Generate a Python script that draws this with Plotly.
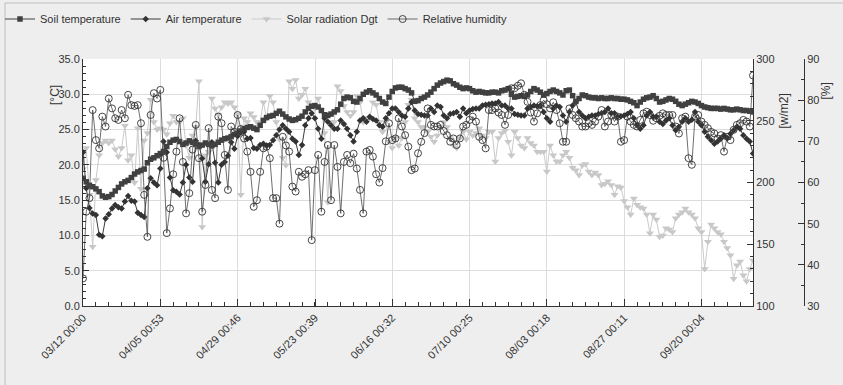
import pandas as pd
import plotly.graph_objects as go

# ---------------- data (daily samples starting 03/12) ----------------
start_date = "2013-03-12"

tick_labels = ["03/12 00:00", "04/05 00:53", "04/29 00:46", "05/23 00:39", "06/16 00:32",
               "07/10 00:25", "08/03 00:18", "08/27 00:11", "09/20 00:04"]

soil_temp = [
    18.1, 17.6, 17.1, 16.9, 16.6, 16.2, 15.6, 15.4, 15.5, 15.8, 16.3, 16.8, 17.3, 17.6, 17.8, 18.2, 18.7, 19.0, 19.2, 19.4, 20.3, 20.8, 21.0, 21.3, 21.6, 21.9, 22.6, 23.2, 23.5, 23.6,
    23.3, 22.9, 23.1, 23.4, 23.2, 23.0, 22.6, 22.8, 23.1, 22.9, 22.7, 22.9, 23.2, 23.5, 23.7, 23.8, 24.0, 24.3, 24.5, 24.8, 25.1, 25.3, 25.4, 25.2, 25.0, 25.6, 26.3, 26.7, 26.9, 27.0,
    27.3, 27.6, 27.2, 26.8, 26.5, 26.3, 26.4, 26.6, 26.9, 27.5, 28.0, 28.3, 28.4, 28.2, 27.7, 27.1, 27.0, 27.2, 27.5, 27.8, 28.6, 29.4, 29.6, 29.5, 29.0, 28.9, 29.4, 30.0, 30.3, 30.5,
    30.2, 29.9, 29.4, 28.9, 28.7, 29.6, 30.4, 30.9, 31.0, 31.0, 30.8, 30.6, 30.2, 29.0, 29.1, 29.4, 29.6, 29.9, 30.3, 30.8, 31.3, 31.6, 31.8, 32.0, 31.9, 31.5, 31.3, 31.0, 30.8, 30.9,
    30.8, 30.5, 30.3, 30.4, 30.3, 30.2, 30.2, 30.3, 30.3, 30.2, 30.5, 30.6, 30.8, 30.0, 29.6, 29.7, 29.8, 29.7, 29.9, 30.4, 30.8, 30.6, 30.3, 29.9, 30.1, 30.4, 30.6, 30.4, 30.2, 29.9,
    30.5, 30.6, 29.8, 29.0, 29.4, 29.9, 29.8, 29.6, 29.5, 29.5, 29.4, 29.5, 29.4, 29.4, 29.5, 29.4, 29.4, 29.3, 29.3, 29.2, 29.0, 28.8, 28.4, 28.9, 29.3, 29.5, 29.6, 29.8, 29.4, 28.9,
    29.0, 29.2, 29.4, 29.3, 29.0, 28.6, 28.4, 28.6, 28.8, 29.0, 28.9, 28.7, 28.4, 28.2, 28.1, 28.0, 28.0, 28.0, 27.9, 28.0, 27.9, 27.8, 27.8, 27.9, 27.8, 27.7, 27.7, 27.6, 27.5,
]

air_temp = [
    21.8, 16.7, 13.9, 13.1, 12.9, 10.1, 9.9, 12.4, 13.0, 13.8, 14.3, 14.0, 13.8, 14.8, 15.6, 14.9, 14.8, 13.2, 12.9, 12.6, 16.7, 18.1, 17.5, 17.1, 19.5, 23.3, 21.8, 18.2, 16.4, 16.2,
    15.8, 17.5, 20.0, 18.2, 17.6, 23.4, 22.8, 20.9, 17.6, 20.1, 23.2, 20.3, 17.5, 20.0, 20.4, 21.3, 23.2, 22.3, 24.1, 24.6, 24.7, 23.7, 23.8, 22.4, 22.3, 22.8, 23.0, 22.7, 22.8, 23.5,
    24.2, 25.0, 25.6, 25.1, 24.7, 23.7, 23.3, 21.4, 22.8, 25.6, 26.6, 27.3, 26.6, 25.1, 23.7, 26.6, 26.1, 25.6, 25.1, 25.1, 26.3, 25.8, 25.1, 24.2, 23.3, 24.7, 26.3, 26.6, 26.1, 26.8,
    26.5, 26.3, 25.6, 25.4, 26.6, 27.3, 28.0, 28.0, 27.5, 27.0, 26.8, 28.0, 28.9, 27.7, 27.2, 27.1, 27.0, 27.0, 28.0, 27.5, 28.4, 28.2, 27.0, 26.6, 27.2, 27.3, 27.5, 26.8, 28.0, 27.3,
    27.7, 27.9, 28.0, 28.0, 28.4, 28.5, 28.6, 28.7, 28.7, 28.9, 28.4, 28.4, 28.0, 28.0, 27.2, 27.1, 27.0, 27.0, 28.0, 28.2, 28.4, 28.3, 28.4, 27.5, 26.6, 26.1, 28.0, 28.4, 28.2, 27.0,
    26.1, 27.5, 28.4, 28.9, 27.5, 27.0, 26.6, 26.8, 27.0, 27.0, 27.2, 27.3, 27.5, 28.0, 27.3, 27.3, 26.8, 26.9, 27.0, 27.2, 27.5, 26.6, 25.6, 25.1, 25.6, 27.0, 27.5, 26.8, 26.8, 26.1,
    25.8, 26.3, 26.6, 25.6, 24.9, 25.4, 26.1, 26.6, 26.1, 26.4, 27.5, 26.1, 25.6, 24.7, 24.0, 23.5, 23.0, 23.3, 23.7, 24.2, 23.8, 24.4, 24.9, 25.4, 25.1, 24.2, 23.7, 23.3, 21.6,
]

solar_radiation = [
    211, 228, 190, 148, 202, 222, 232, 234, 232, 234, 227, 221, 228, 246, 218, 222, 200, 244, 195, 234, 240, 267, 249, 243, 244, 243, 239, 248, 254, 249,
    249, 252, 230, 220, 238, 245, 282, 164, 222, 225, 268, 260, 255, 261, 265, 264, 265, 261, 255, 190, 252, 249, 256, 253, 249, 249, 265, 252, 270, 265,
    249, 235, 220, 214, 282, 276, 283, 268, 271, 276, 265, 263, 260, 268, 259, 240, 184, 249, 249, 278, 274, 262, 257, 254, 257, 270, 265, 249, 252, 252,
    265, 263, 249, 241, 249, 233, 228, 236, 230, 236, 249, 263, 267, 252, 249, 245, 245, 241, 237, 233, 238, 245, 249, 245, 236, 230, 228, 236, 241, 235,
    241, 238, 240, 244, 238, 236, 241, 241, 217, 236, 240, 242, 233, 222, 241, 236, 230, 228, 236, 232, 230, 225, 225, 225, 209, 230, 222, 217, 217, 222,
    225, 220, 212, 210, 206, 214, 215, 209, 206, 208, 206, 198, 199, 201, 198, 190, 197, 196, 185, 180, 174, 187, 182, 180, 179, 174, 159, 174, 170, 156,
    157, 163, 162, 160, 171, 174, 176, 179, 176, 174, 171, 163, 160, 130, 152, 166, 163, 160, 158, 152, 147, 141, 122, 133, 136, 125, 120, 130, 137,
]

relative_humidity = [
    36.7, 52.9, 56.2, 77.6, 70.3, 68.3, 76.0, 73.6, 80.4, 78.0, 75.6, 75.2, 77.6, 75.6, 81.3, 78.8, 78.6, 78.8, 74.4, 57.0, 46.8, 76.4, 81.7, 80.4, 82.5, 66.0, 47.7, 53.7, 62.0, 67.5,
    75.6, 65.0, 52.5, 57.4, 68.0, 74.0, 65.9, 52.9, 59.4, 73.2, 58.2, 56.2, 76.0, 74.4, 66.7, 58.2, 73.6, 72.3, 76.4, 73.0, 70.7, 67.5, 62.6, 54.1, 55.7, 62.6, 68.3, 68.7, 65.9, 56.2,
    56.2, 50.0, 71.1, 69.0, 67.5, 59.0, 57.8, 62.6, 61.4, 62.0, 63.0, 46.0, 63.0, 66.7, 52.9, 65.0, 69.1, 55.7, 69.1, 63.8, 52.5, 65.0, 66.7, 64.7, 67.0, 63.4, 58.2, 52.5, 67.5, 67.9,
    66.3, 62.0, 60.0, 63.5, 70.0, 74.4, 70.3, 70.7, 75.6, 73.6, 71.5, 68.7, 63.0, 63.4, 67.1, 69.9, 72.0, 78.0, 74.0, 73.6, 73.6, 74.0, 72.5, 71.5, 69.9, 70.7, 69.1, 70.7, 73.6, 74.0,
    75.2, 76.0, 74.8, 71.1, 70.3, 68.3, 77.6, 77.6, 78.0, 77.0, 76.4, 74.0, 76.4, 82.9, 82.9, 83.5, 84.1, 81.3, 79.6, 77.0, 74.8, 76.8, 78.8, 80.0, 79.0, 78.0, 79.5, 77.6, 74.4, 69.9,
    69.9, 78.0, 76.4, 75.6, 74.8, 73.6, 73.6, 74.4, 74.0, 74.8, 76.0, 77.6, 73.6, 74.8, 76.4, 74.8, 76.0, 69.9, 70.3, 76.0, 74.8, 74.0, 73.6, 75.2, 76.8, 77.2, 76.4, 75.0, 75.6, 76.2,
    76.8, 76.4, 76.4, 76.4, 73.6, 71.9, 75.6, 76.0, 65.9, 64.3, 76.0, 76.4, 74.8, 74.0, 73.2, 72.3, 71.9, 70.7, 71.5, 67.5, 71.1, 70.3, 72.8, 74.0, 74.4, 75.2, 74.8, 73.6, 86.0,
]

n = len(soil_temp)
assert len(air_temp) == n and len(solar_radiation) == n and len(relative_humidity) == n, \
    (len(soil_temp), len(air_temp), len(solar_radiation), len(relative_humidity))

dates = pd.date_range(start_date, periods=n, freq="D")
tick_vals = [pd.to_datetime("2013/" + t, format="%Y/%m/%d %H:%M") for t in tick_labels]

# ---------------- figure ----------------
FONT = "Liberation Sans, Arial, sans-serif"
W, H = 843, 385
ML, MR, MT, MB = 83, 25, 59, 79
PW = W - ML - MR
PH = H - MT - MB


def px_x(px):
    return (px - ML) / PW


def px_y(py):
    return (H - MB - py) / PH


fig = go.Figure()

fig.add_trace(go.Scatter(
    x=dates, y=solar_radiation, name="Solar radiation Dgt", yaxis="y",
    mode="lines+markers", legendrank=3,
    line=dict(color="#cacaca", width=1),
    marker=dict(symbol="triangle-down", size=7, color="#c8c8c8"),
))
fig.add_trace(go.Scatter(
    x=dates, y=air_temp, name="Air temperature", yaxis="y2",
    mode="lines+markers", legendrank=2,
    line=dict(color="#3a3a3a", width=1),
    marker=dict(symbol="diamond", size=5, color="#333333"),
))
fig.add_trace(go.Scatter(
    x=dates, y=soil_temp, name="Soil temperature", yaxis="y2",
    mode="lines+markers", legendrank=1,
    line=dict(color="#404040", width=1),
    marker=dict(symbol="square", size=5.5, color="#404040"),
))
fig.add_trace(go.Scatter(
    x=dates, y=relative_humidity, name="Relative humidity", yaxis="y3",
    mode="lines+markers", legendrank=4,
    line=dict(color="#4a4a4a", width=0.8),
    marker=dict(symbol="circle-open", size=7, color="#333333", line=dict(width=0.9)),
))

tickfont = dict(family=FONT, size=11, color="#333333")
x_end = px_x(753)

fig.update_layout(
    width=W, height=H,
    margin=dict(l=ML, r=MR, t=MT, b=MB, autoexpand=False),
    paper_bgcolor="#eeeeee",
    plot_bgcolor="#ffffff",
    font=dict(family=FONT, size=11, color="#333333"),
    showlegend=True,
    legend=dict(
        orientation="h", xref="container", yref="container",
        x=-1 / W, xanchor="left", y=1 - 19 / H, yanchor="middle",
        font=dict(family=FONT, size=11, color="#333333"),
        bgcolor="rgba(0,0,0,0)", itemwidth=30, traceorder="normal",
    ),
    xaxis=dict(
        domain=[0, x_end], type="date",
        range=[dates[0], dates[-1]],
        tickvals=tick_vals, ticktext=tick_labels, tickangle=-45,
        tickfont=dict(family=FONT, size=11, color="#333333"),
        showgrid=True, gridcolor="#dcdcdc", gridwidth=1,
        ticks="inside", ticklen=7, tickcolor="#333333",
        minor=dict(ticks="inside", ticklen=4, tickcolor="#333333",
                   dtick=4 * 86400000, tick0=dates[0], showgrid=False),
        showline=True, linecolor="#333333", linewidth=1,
        zeroline=False,
    ),
    yaxis=dict(
        range=[100, 300], side="right", anchor="x",
        tickvals=[100, 150, 200, 250, 300], tickfont=tickfont,
        ticks="inside", ticklen=6, tickcolor="#333333",
        minor=dict(ticks="inside", ticklen=3, tickcolor="#333333", dtick=10, showgrid=False),
        showgrid=False, zeroline=False,
        showline=True, linecolor="#333333", linewidth=1,
    ),
    yaxis2=dict(
        range=[0, 35], side="left", anchor="x", overlaying="y",
        dtick=5, tick0=0, tickformat=".1f", tickfont=tickfont,
        ticks="inside", ticklen=6, tickcolor="#333333",
        minor=dict(ticks="inside", ticklen=3, tickcolor="#333333", dtick=1, showgrid=False),
        showgrid=True, gridcolor="#dcdcdc", gridwidth=1,
        zeroline=False, showline=True, linecolor="#333333", linewidth=1,
    ),
    yaxis3=dict(
        range=[30, 90], side="right", anchor="free", overlaying="y",
        position=px_x(804),
        dtick=10, tick0=30, tickfont=tickfont,
        ticks="inside", ticklen=6, tickcolor="#333333",
        minor=dict(ticks="inside", ticklen=3, tickcolor="#333333", dtick=5, showgrid=False),
        showgrid=False, zeroline=False,
        showline=True, linecolor="#333333", linewidth=1,
    ),
    annotations=[
        dict(text="[°C]", x=px_x(46), y=px_y(83), xref="paper", yref="paper",
             showarrow=False, textangle=-90, font=dict(family=FONT, size=12, color="#333333")),
        dict(text="[w/m2]", x=px_x(792), y=px_y(92), xref="paper", yref="paper",
             showarrow=False, textangle=-90, font=dict(family=FONT, size=12, color="#333333")),
        dict(text="[%]", x=px_x(834), y=px_y(80), xref="paper", yref="paper",
             showarrow=False, textangle=-90, font=dict(family=FONT, size=12, color="#333333")),
    ],
    shapes=[
        dict(type="rect", xref="paper", yref="paper",
             x0=px_x(5), x1=px_x(900), y0=px_y(450), y1=px_y(3),
             line=dict(color="#bdbdbd", width=1), fillcolor="rgba(0,0,0,0)", layer="below"),
    ],
)

fig.write_html(
    "out.html",
    config={"displayModeBar": False},
    post_script="document.body.style.margin='0';document.body.style.overflow='hidden';",
)
